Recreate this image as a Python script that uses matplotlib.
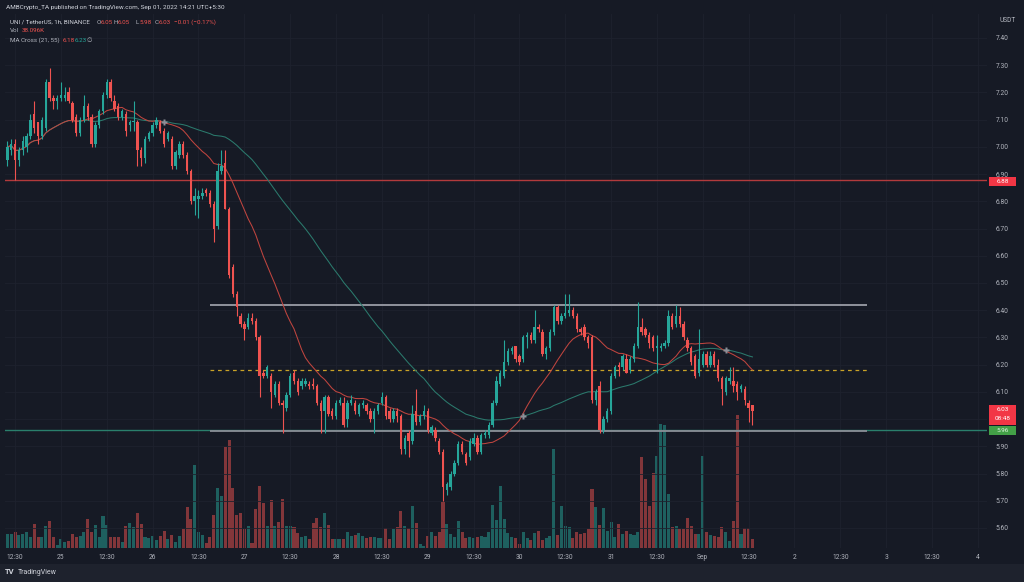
import numpy as np
import pandas as pd
import matplotlib
matplotlib.use("Agg")
import matplotlib.pyplot as plt
from matplotlib.patches import Rectangle

plt.rcParams['font.family'] = ['Roboto', 'DejaVu Sans']

# UNI/USDT 1h candles, Aug 24 10:30 -> Sep 01 13:30 (UTC+5:30)
opens = [6.95, 6.99, 7.01, 6.95, 6.99, 7.00, 7.04, 7.12, 7.09, 7.04, 7.07, 7.24, 7.18, 7.17, 7.18, 7.18, 7.20, 7.16, 7.11, 7.05,
         7.10, 7.15, 7.11, 7.01, 7.08, 7.13, 7.19, 7.24, 7.17, 7.15, 7.11, 7.12, 7.08, 7.09, 7.09, 6.99, 6.96, 7.03, 7.05, 7.08,
         7.09, 7.06, 7.03, 7.03, 6.93, 6.97, 7.01, 6.97, 6.91, 6.80, 6.81, 6.82, 6.84, 6.83, 6.79, 6.71, 6.91, 6.94, 6.77, 6.56,
         6.46, 6.38, 6.35, 6.34, 6.37, 6.36, 6.30, 6.17, 6.16, 6.16, 6.09, 6.13, 6.06, 6.04, 6.09, 6.17, 6.14, 6.12, 6.13, 6.13,
         6.13, 6.12, 6.06, 6.03, 6.08, 6.03, 6.01, 6.06, 6.06, 6.00, 6.06, 6.06, 6.02, 6.05, 6.05, 6.03, 6.00, 6.03, 6.06, 6.08,
         6.03, 6.00, 6.03, 6.01, 5.89, 5.95, 5.92, 6.03, 5.99, 6.01, 6.03, 5.95, 5.96, 5.92, 5.88, 5.74, 5.75, 5.80, 5.84, 5.91,
         5.87, 5.86, 5.91, 5.93, 5.88, 5.94, 5.94, 5.98, 6.06, 6.13, 6.16, 6.21, 6.25, 6.27, 6.23, 6.22, 6.30, 6.31, 6.29, 6.34,
         6.32, 6.24, 6.26, 6.32, 6.41, 6.36, 6.38, 6.39, 6.40, 6.38, 6.33, 6.34, 6.30, 6.30, 6.07, 6.12, 5.96, 6.00, 6.03, 6.16,
         6.20, 6.19, 6.22, 6.18, 6.22, 6.27, 6.34, 6.33, 6.31, 6.30, 6.26, 6.26, 6.27, 6.28, 6.38, 6.35, 6.38, 6.35, 6.29, 6.26,
         6.23, 6.17, 6.20, 6.24, 6.20, 6.24, 6.20, 6.15, 6.10, 6.14, 6.14, 6.13, 6.11, 6.11, 6.06, 6.05]
highs = [7.02, 7.03, 7.03, 7.00, 7.04, 7.05, 7.12, 7.17, 7.09, 7.11, 7.25, 7.29, 7.19, 7.19, 7.24, 7.22, 7.22, 7.17, 7.12, 7.11,
         7.19, 7.16, 7.12, 7.09, 7.14, 7.20, 7.25, 7.25, 7.19, 7.16, 7.14, 7.13, 7.10, 7.17, 7.10, 7.00, 7.04, 7.06, 7.09, 7.11,
         7.10, 7.07, 7.06, 7.04, 6.99, 7.02, 7.02, 6.98, 6.92, 6.85, 6.84, 6.85, 6.85, 6.84, 6.80, 6.94, 6.99, 6.99, 6.78, 6.57,
         6.47, 6.39, 6.36, 6.39, 6.39, 6.37, 6.31, 6.18, 6.20, 6.17, 6.14, 6.14, 6.07, 6.10, 6.17, 6.18, 6.15, 6.15, 6.15, 6.14,
         6.15, 6.13, 6.07, 6.09, 6.09, 6.04, 6.07, 6.08, 6.08, 6.07, 6.09, 6.07, 6.06, 6.07, 6.06, 6.04, 6.04, 6.06, 6.10, 6.09,
         6.04, 6.04, 6.04, 6.02, 5.94, 5.96, 6.05, 6.11, 6.02, 6.05, 6.04, 5.98, 5.97, 5.93, 5.89, 5.77, 5.81, 5.85, 5.92, 5.92,
         5.88, 5.93, 5.95, 5.94, 5.95, 5.96, 5.99, 6.07, 6.16, 6.18, 6.29, 6.26, 6.27, 6.27, 6.24, 6.31, 6.32, 6.32, 6.40, 6.35,
         6.33, 6.27, 6.33, 6.42, 6.42, 6.39, 6.46, 6.46, 6.41, 6.39, 6.34, 6.35, 6.31, 6.31, 6.11, 6.14, 6.01, 6.04, 6.17, 6.20,
         6.21, 6.24, 6.24, 6.23, 6.28, 6.43, 6.37, 6.34, 6.32, 6.31, 6.31, 6.28, 6.29, 6.40, 6.39, 6.42, 6.41, 6.36, 6.30, 6.27,
         6.24, 6.33, 6.25, 6.25, 6.25, 6.25, 6.22, 6.16, 6.16, 6.19, 6.19, 6.14, 6.13, 6.12, 6.07, 6.05]
lows = [6.93, 6.97, 6.88, 6.93, 6.97, 6.98, 7.03, 7.05, 7.01, 7.03, 7.06, 7.17, 7.14, 7.14, 7.17, 7.17, 7.16, 7.09, 7.04, 7.04,
        7.09, 7.10, 7.00, 7.00, 7.07, 7.12, 7.18, 7.17, 7.13, 7.10, 7.10, 7.04, 7.06, 7.06, 6.93, 6.93, 6.94, 7.02, 7.04, 7.07,
        7.05, 7.00, 7.02, 6.92, 6.92, 6.96, 6.96, 6.90, 6.79, 6.75, 6.74, 6.81, 6.82, 6.78, 6.65, 6.70, 6.90, 6.77, 6.52, 6.45,
        6.38, 6.34, 6.29, 6.33, 6.35, 6.29, 6.08, 6.15, 6.15, 6.04, 6.08, 6.05, 5.95, 6.03, 6.08, 6.13, 6.09, 6.11, 6.12, 6.11,
        6.11, 6.05, 5.95, 5.95, 6.01, 6.00, 6.00, 6.05, 5.97, 5.97, 6.05, 6.02, 6.01, 6.04, 6.02, 5.99, 5.95, 6.02, 6.05, 6.00,
        5.99, 5.99, 5.99, 5.87, 5.87, 5.86, 5.91, 5.98, 5.98, 6.00, 5.95, 5.94, 5.92, 5.87, 5.70, 5.72, 5.74, 5.79, 5.83, 5.87,
        5.83, 5.85, 5.90, 5.87, 5.87, 5.93, 5.93, 5.97, 6.05, 6.12, 6.15, 6.20, 6.24, 6.21, 6.20, 6.21, 6.26, 6.28, 6.28, 6.32,
        6.23, 6.22, 6.25, 6.31, 6.35, 6.35, 6.37, 6.38, 6.37, 6.32, 6.31, 6.29, 6.26, 6.06, 6.05, 5.95, 5.95, 5.99, 6.02, 6.15,
        6.16, 6.18, 6.17, 6.17, 6.21, 6.26, 6.31, 6.30, 6.26, 6.25, 6.17, 6.25, 6.26, 6.27, 6.33, 6.34, 6.34, 6.29, 6.25, 6.20,
        6.15, 6.16, 6.19, 6.19, 6.19, 6.19, 6.14, 6.05, 6.09, 6.13, 6.10, 6.07, 6.10, 6.05, 5.99, 5.98]
closes = [7.00, 7.01, 6.95, 6.99, 7.02, 7.04, 7.10, 7.07, 7.04, 7.10, 7.24, 7.18, 7.17, 7.18, 7.19, 7.19, 7.17, 7.10, 7.05, 7.10,
          7.15, 7.11, 7.01, 7.08, 7.13, 7.19, 7.24, 7.18, 7.14, 7.11, 7.13, 7.06, 7.09, 7.095, 6.99, 6.96, 7.03, 7.05, 7.08, 7.10,
          7.06, 7.01, 7.05, 6.93, 6.98, 7.01, 6.97, 6.91, 6.80, 6.82, 6.82, 6.83, 6.83, 6.79, 6.70, 6.91, 6.93, 6.77, 6.53, 6.46,
          6.41, 6.35, 6.33, 6.37, 6.36, 6.30, 6.16, 6.16, 6.19, 6.10, 6.13, 6.06, 6.05, 6.09, 6.16, 6.14, 6.10, 6.14, 6.14, 6.12,
          6.12, 6.06, 6.03, 6.08, 6.02, 6.01, 6.06, 6.07, 5.98, 6.06, 6.07, 6.03, 6.05, 6.06, 6.03, 6.00, 6.03, 6.05, 6.08, 6.01,
          6.00, 6.03, 6.01, 5.89, 5.93, 5.92, 6.02, 5.99, 6.01, 6.03, 5.96, 5.97, 5.93, 5.88, 5.75, 5.76, 5.80, 5.84, 5.91, 5.88,
          5.84, 5.92, 5.93, 5.88, 5.94, 5.95, 5.98, 6.06, 6.14, 6.17, 6.21, 6.25, 6.26, 6.22, 6.21, 6.30, 6.31, 6.29, 6.34, 6.33,
          6.24, 6.26, 6.32, 6.41, 6.36, 6.38, 6.39, 6.40, 6.38, 6.33, 6.32, 6.30, 6.28, 6.07, 6.10, 5.96, 6.00, 6.03, 6.16, 6.19,
          6.19, 6.23, 6.17, 6.22, 6.27, 6.34, 6.32, 6.31, 6.28, 6.26, 6.27, 6.27, 6.28, 6.38, 6.34, 6.38, 6.35, 6.30, 6.26, 6.21,
          6.16, 6.22, 6.24, 6.20, 6.23, 6.20, 6.15, 6.11, 6.15, 6.15, 6.12, 6.10, 6.12, 6.07, 6.04, 6.03]
volume_k = [56, 56, 63, 52, 56, 66, 46, 98, 46, 46, 88, 108, 46, 14, 38, 24, 27, 56, 46, 49,
            66, 119, 63, 94, 46, 130, 94, 46, 46, 46, 24, 91, 101, 84, 143, 97, 46, 42, 49, 32,
            49, 70, 35, 52, 24, 49, 77, 168, 119, 336, 66, 52, 21, 46, 133, 242, 210, 409, 437, 242,
            133, 140, 77, 88, 21, 158, 252, 182, 91, 196, 88, 105, 200, 91, 88, 84, 60, 46, 49, 35,
            102, 122, 84, 140, 94, 38, 38, 35, 35, 66, 49, 52, 60, 49, 42, 46, 46, 42, 42, 80,
            38, 77, 87, 150, 88, 80, 171, 102, 18, 10, 49, 63, 49, 63, 185, 99, 56, 46, 109, 63,
            42, 46, 42, 46, 49, 46, 63, 175, 112, 252, 119, 60, 46, 42, 18, 63, 42, 32, 60, 70,
            32, 42, 49, 402, 52, 172, 88, 84, 42, 63, 56, 60, 77, 238, 168, 94, 164, 70, 105, 46,
            98, 56, 70, 56, 52, 63, 368, 280, 172, 304, 374, 504, 500, 217, 84, 88, 77, 77, 122, 88,
            56, 56, 374, 63, 52, 49, 46, 84, 63, 28, 108, 539, 56, 80, 80, 38]

# drawn levels
resistance_level = 6.88
range_high = 6.42
range_mid = 6.18
range_low = 5.955
support_level = 5.96
range_bars = (53, 225)
countdown = '08:48'

price_ticks = np.round(np.arange(5.6, 7.41, 0.1), 2)

bg = '#161a25'
up_col, dn_col = '#26a69a', '#ef5350'
vol_up, vol_dn = '#1e605f', '#82363a'
txt = '#b2b5be'

n = len(closes)
x = np.arange(n)
o = np.array(opens); c = np.array(closes)
h = np.array(highs); l = np.array(lows)
rising = c >= o
cols = np.where(rising, up_col, dn_col)

times = pd.date_range("2022-08-24 10:30", periods=257, freq="h")

W, H = 1024, 582
fig = plt.figure(figsize=(W / 100, H / 100), dpi=100, facecolor=bg)
rect = [5 / W, (H - 548) / H, (987 - 5) / W, (548 - 14) / H]
xlim = (-0.65, 256.4)

# volume pane underneath
ax_v = fig.add_axes(rect, zorder=0)
ax_v.set_facecolor(bg)
ax_v.bar(x, volume_k, width=0.8, color=np.where(rising, vol_up, vol_dn), linewidth=0)
ax_v.set_xlim(*xlim)
ax_v.set_ylim(0, 2165)
ax_v.axis('off')

ax = fig.add_axes(rect, zorder=1)
ax.patch.set_alpha(0)
ax.set_xlim(*xlim)
ax.set_ylim(5.5264, 7.488)

# grid
for p in price_ticks:
    ax.axhline(p, color='#1e222e', lw=0.6, zorder=0)
tick_pos, tick_lab = [], []
for i, t in enumerate(times):
    if t.hour == 12:
        tick_pos.append(i); tick_lab.append('12:30')
    elif t.hour == 0:
        tick_pos.append(i); tick_lab.append(t.strftime('%b') if t.day == 1 else str(t.day))
for p in tick_pos:
    ax.axvline(p, color='#1e222e', lw=0.6, zorder=0)

# levels
ax.axhline(resistance_level, color='#b23a3c', lw=1.0, zorder=1)
ax.axhline(support_level, color='#2a7f6c', lw=1.0, zorder=1)
ax.hlines(range_high, *range_bars, color='#9a9da6', lw=1.3, zorder=1)
ax.hlines(range_low, *range_bars, color='#8a8d96', lw=1.3, zorder=1)
ax.hlines(range_mid, *range_bars, color='#c9a227', lw=0.9, linestyles=(0, (3, 3)), zorder=1)

# moving averages
s = pd.Series(closes)
ma21 = s.rolling(21, min_periods=1).mean().values
ma55 = s.rolling(55, min_periods=1).mean().values
ax.plot(x, ma55, color='#2b7a6d', lw=0.75, zorder=2)
ax.plot(x, ma21, color='#c0453f', lw=0.75, zorder=2)
diff = np.sign(ma21 - ma55)
cross = [i for i in range(40, n) if diff[i] != diff[i - 1]]
ax.plot(x[cross], ma55[cross], 'P', color='#8c8f98', ms=4, mec='none', zorder=3)

# candles
ax.vlines(x, l, h, colors=cols, lw=0.8, zorder=4)
body = np.maximum(np.abs(c - o), 0.004)
ax.bar(x, body, bottom=np.minimum(o, c), width=0.62, color=cols, linewidth=0, zorder=5)

for sp in ax.spines.values():
    sp.set_visible(False)
ax.yaxis.tick_right()
ax.set_yticks(price_ticks)
# 6.00 sits under the last-price tag on the scale
ax.set_yticklabels(['' if p == 6.0 else f'{p:.2f}' for p in price_ticks])
ax.set_xticks(tick_pos)
ax.set_xticklabels(tick_lab)
ax.tick_params(length=0, colors=txt, labelsize=4.8)
ax.tick_params(axis='y', pad=6)
ax.tick_params(axis='x', pad=4)

# price scale tags (box in axes-x / data-y)
yt = ax.get_yaxis_transform()
px_y = (7.488 - 5.5264) / 534  # price per pixel
tag_x, tag_w = 1.002, 27 / 982

def tag(price, lines, fc, tc='white', nlines=1):
    hgt = (9 + 11 * (nlines - 1)) * px_y
    top = price + 4.5 * px_y
    ax.add_patch(Rectangle((tag_x, top - hgt), tag_w, hgt, transform=yt, fc=fc, ec='none',
                           clip_on=False, zorder=6))
    for k, s_ in enumerate(lines):
        ax.text(tag_x + tag_w / 2, price - k * 9 * px_y, s_, transform=yt, fontsize=4.6, color=tc,
                ha='center', va='center', clip_on=False, zorder=7)

tag(resistance_level - 0.007, ['6.88'], '#f23645')
tag(closes[-1] + 0.007, [f'{closes[-1]:.2f}', countdown], '#f23645', nlines=2)
tag(support_level - 0.002, ['5.96'], '#43a047', '#dff5df')
fig.text(1000 / W, 1 - 20 / H, 'USDT', fontsize=4.8, color=txt, va='center')

# footer
fig.patches.append(Rectangle((0, 0), 1, (H - 564) / H, transform=fig.transFigure, fc='#1e222d', ec='none'))
fig.text(5 / W, 1 - 572 / H, 'TV', fontsize=5.5, color='#d1d4dc', fontweight='bold', va='center')
fig.text(18 / W, 1 - 572 / H, 'TradingView', fontsize=5, color='#d1d4dc', va='center')

# header / legend
def ftxt(px, py, s, col=txt, fs=4.5):
    fig.text(px / W, 1 - py / H, s, fontsize=fs, color=col, va='center')

ftxt(6, 7, 'AMBCrypto_TA published on TradingView.com, Sep 01, 2022 14:21 UTC+5:30', '#d1d4dc', 4.6)
ftxt(10, 22, 'UNI / TetherUS, 1h, BINANCE', '#d1d4dc')
for px, s, col in [(97, 'O', txt), (101, '6.05', dn_col), (114, 'H', txt), (118, '6.05', dn_col),
                   (136, 'L', txt), (139.5, '5.98', dn_col), (155, 'C', txt), (159, '6.03', dn_col),
                   (174, '\u22120.01 (\u22120.17%)', dn_col)]:
    ftxt(px, 22, s, col)
ftxt(10, 31, 'Vol', txt)
ftxt(22, 31, '38.096K', dn_col)
ftxt(10, 40, 'MA Cross (21, 55)', txt)
ftxt(63, 40, '6.18', dn_col)
ftxt(75, 40, '6.23', up_col)
ftxt(87, 40, '\u2205', txt)

fig.savefig('out.png', dpi=100, facecolor=bg)
